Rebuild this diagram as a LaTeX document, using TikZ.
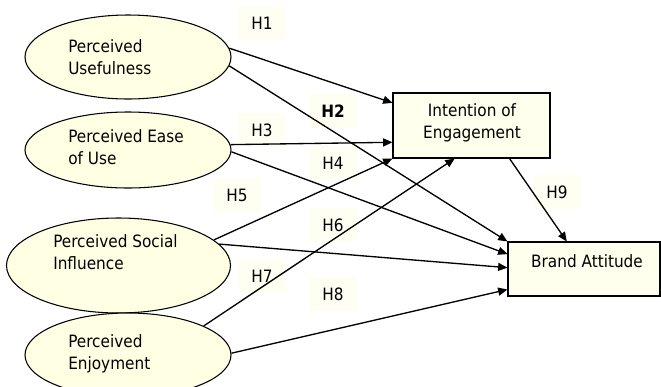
\documentclass[tikz,border=0pt]{standalone}
\usepackage{fontspec}
\setmainfont{DejaVu Sans Condensed}
\usetikzlibrary{arrows.meta,shapes.geometric}
\definecolor{ellfill}{RGB}{255,255,228}
\definecolor{boxfill}{RGB}{255,255,238}
\definecolor{labfill}{RGB}{254,254,242}
\tikzset{
  ell/.style={draw=black,line width=0.8pt,fill=ellfill,ellipse,inner sep=0pt},
  rbox/.style={draw=black,line width=0.8pt,fill=boxfill,rectangle,inner sep=0pt},
  ltext/.style={anchor=west,align=left,inner sep=0pt,font=\fontsize{12.75}{16.3}\selectfont},
  ctext/.style={align=center,inner sep=0pt,font=\fontsize{12.75}{16.3}\selectfont},
  hlab/.style={fill=labfill,inner sep=0pt,minimum width=36pt,minimum height=26pt,font=\fontsize{12.75}{14}\selectfont},
  conn/.style={draw=black,line width=1pt,-{Triangle[length=7pt,width=6pt]}}
}
\begin{document}
\begin{tikzpicture}[x=0.75pt,y=-0.75pt]
\useasboundingbox (0,0) rectangle (661,386);
\clip (0,0) rectangle (661,386);
\fill[white] (0,0) rectangle (661,386);
% hypothesis labels (background)
\node[hlab] (h1) at (262,23) {H1};
\node[hlab] (h2) at (333,111) {\bfseries H2};
\node[hlab] (h3) at (262,130) {H3};
\node[hlab] (h4) at (333,163) {H4};
\node[hlab] (h5) at (237,195) {H5};
\node[hlab] (h6) at (333,225) {H6};
\node[hlab] (h7) at (262,276) {H7};
\node[hlab] (h8) at (333,294) {H8};
\node[hlab] (h9) at (557,192) {H9};
% constructs
\node[ell,minimum width=154.5pt,minimum height=63pt] (pu) at (128,57) {};
\node[ell,minimum width=154.5pt,minimum height=57pt] (peu) at (128,150) {};
\node[ell,minimum width=168pt,minimum height=71.25pt] (psi) at (118.5,265.5) {};
\node[ell,minimum width=154.5pt,minimum height=63pt] (pe) at (128,355) {};
\node[rbox,minimum width=117.75pt,minimum height=48.75pt] (ioe) at (471.5,125.5) {};
\node[rbox,minimum width=114pt,minimum height=40.5pt] (ba) at (584,269) {};
\node[ltext] (put) at (68,57.5) {Perceived\\Usefulness};
\node[ltext] (peut) at (68,147.5) {Perceived Ease\\of Use};
\node[ltext] (psit) at (53,252.5) {Perceived Social\\Influence};
\node[ltext] (pet) at (68,353.5) {Perceived\\Enjoyment};
\node[ctext] (ioet) at (472,122.5) {Intention of\\Engagement};
\node[ctext] (bat) at (587,261.5) {Brand Attitude};
% connectors
\draw[conn] (pu.5.5) -- (ioe.164.7);
\draw[conn] (pu.-5.8) -- (ba.north west);
\draw[conn] (peu.3.9) -- (ioe.192.6);
\draw[conn] (peu.-1.7) -- (ba.169.6);
\draw[conn] (psi.15) -- (ioe.south west);
\draw[conn] (psi.12.4) -- (ba.179);
\draw[conn] (pe.21.8) -- (ioe.243.1);
\draw[conn] (pe.1.1) -- (ba.195.4);
\draw[conn] (ioe.319.8) -- (ba.122.2);
\end{tikzpicture}
\end{document}
